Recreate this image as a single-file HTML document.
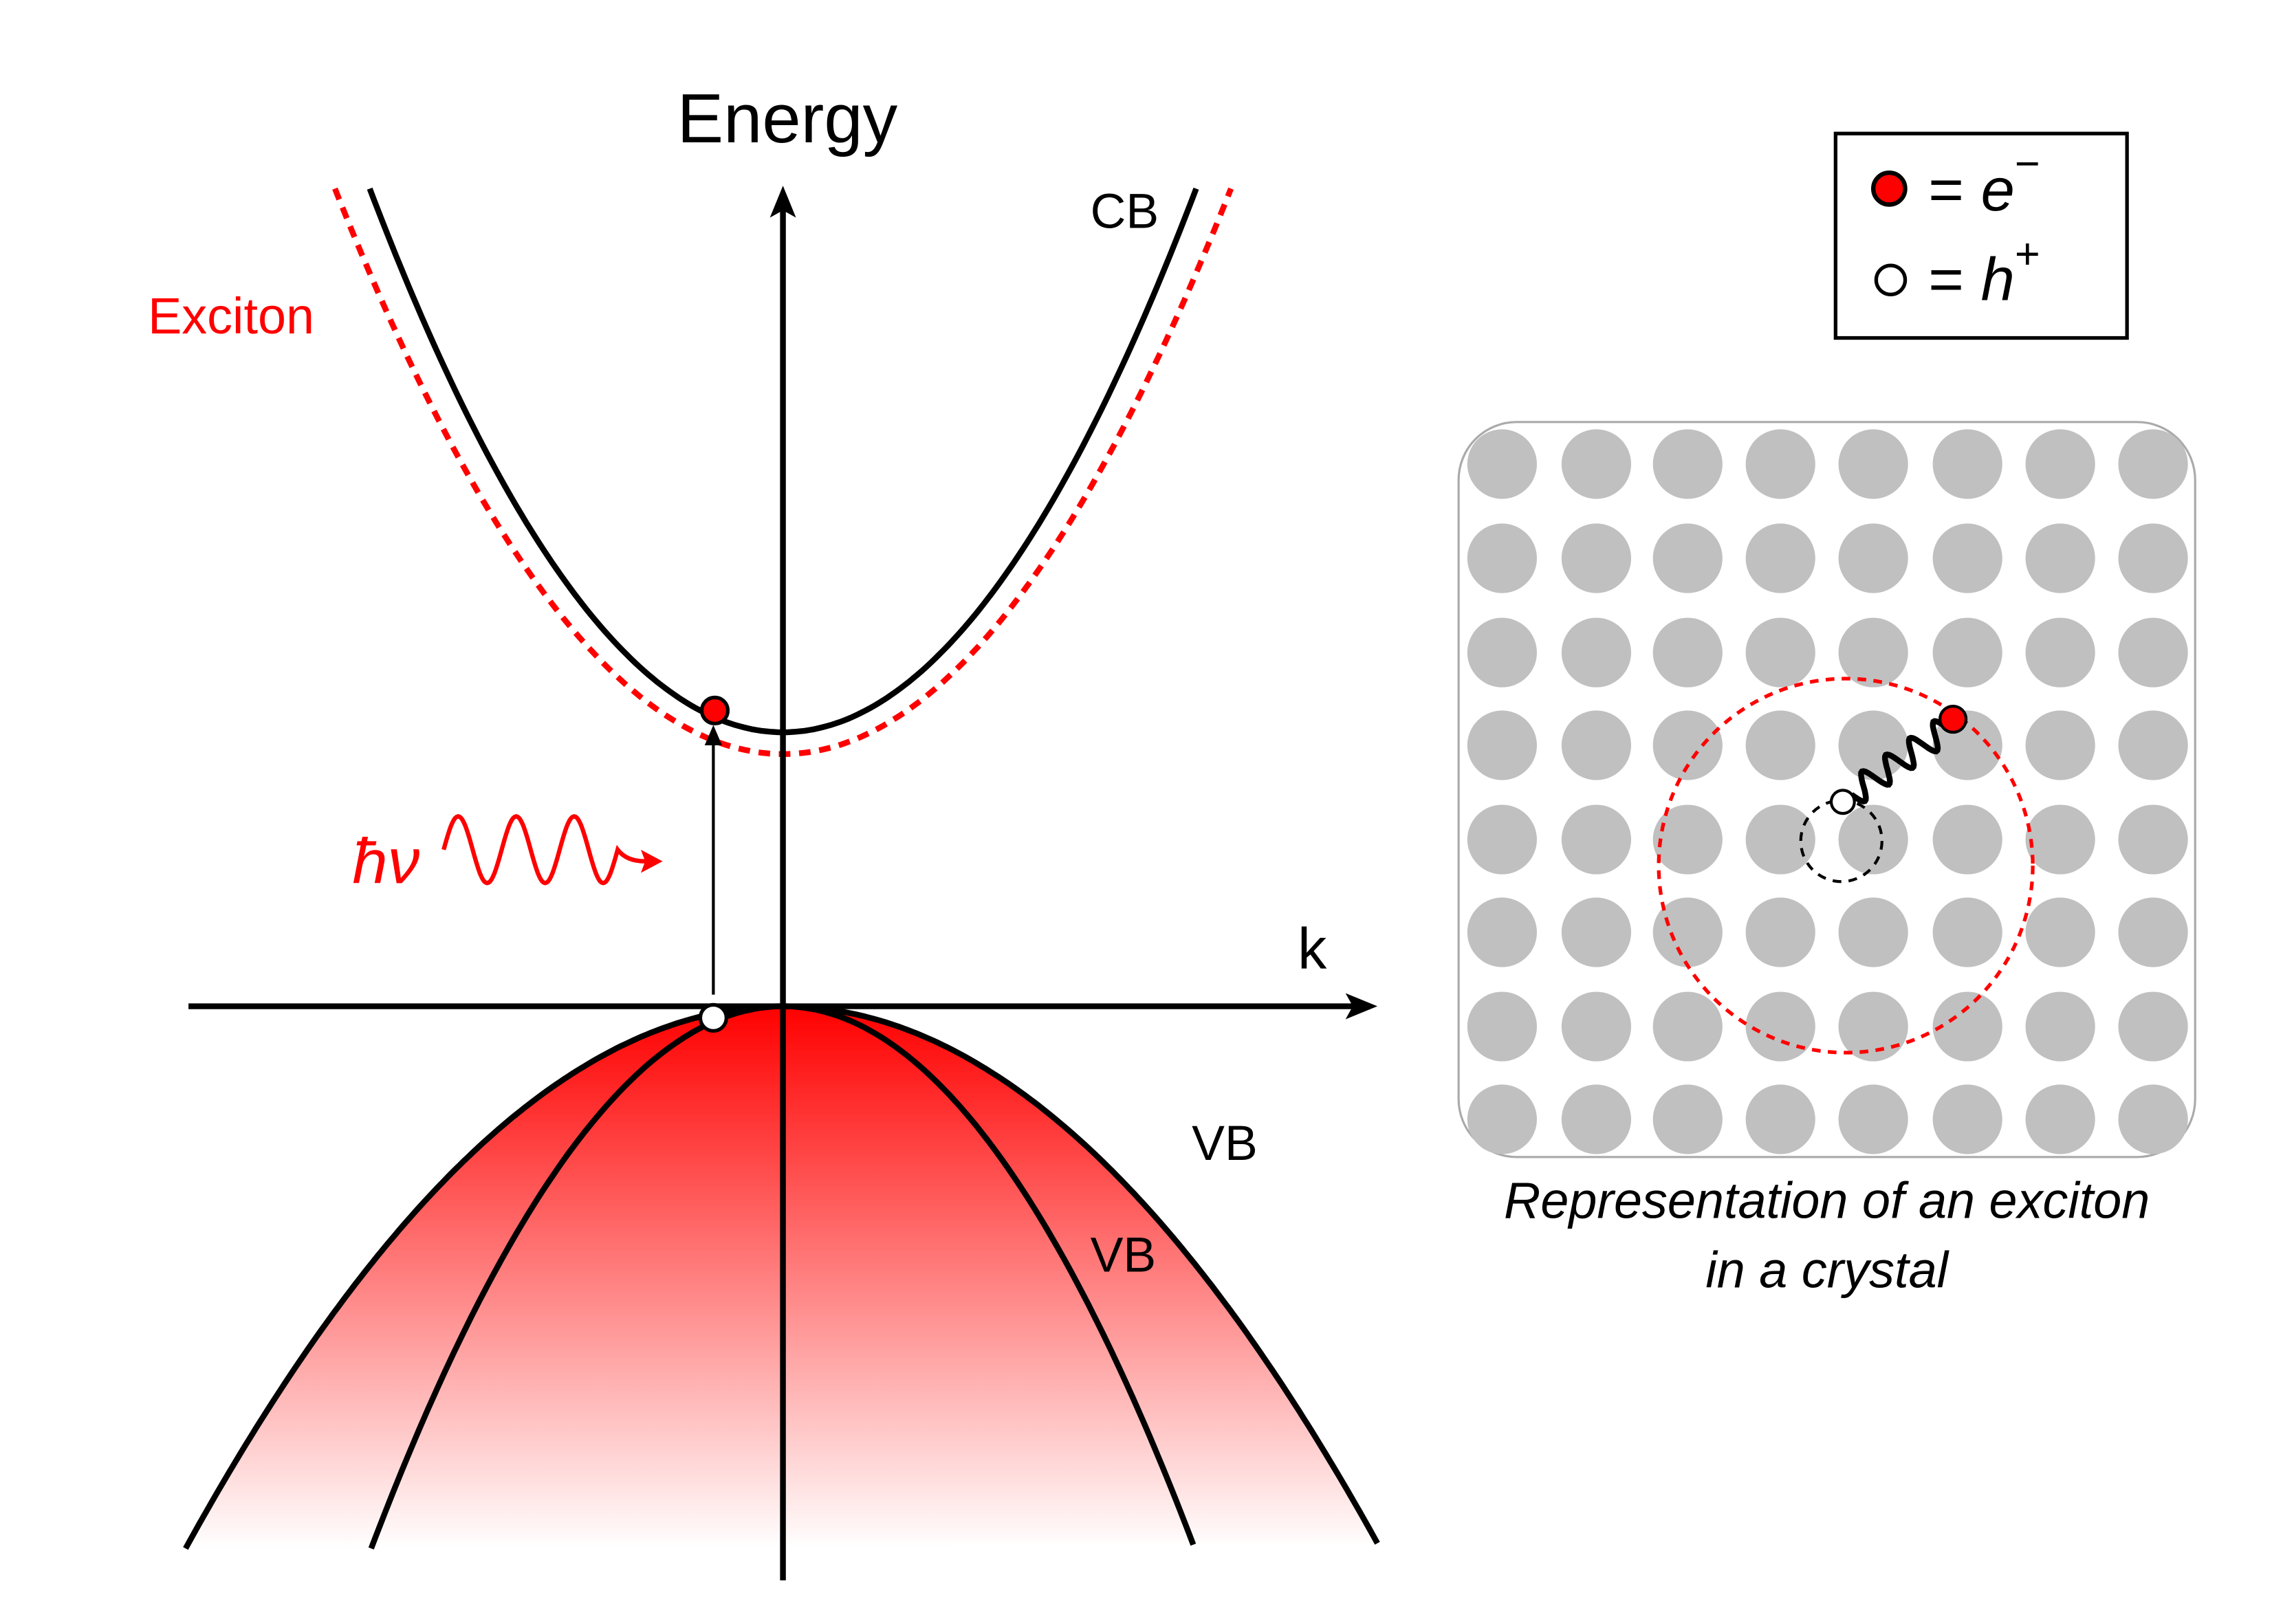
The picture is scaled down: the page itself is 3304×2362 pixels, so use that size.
<!DOCTYPE html>
<html><head><meta charset="utf-8"><style>
html,body{margin:0;padding:0;background:#fff;}
svg{display:block;}
text{font-family:"Liberation Sans",sans-serif;}
</style></head><body>
<svg id="fig" width="3304" height="2362" viewBox="0 0 1567 1120" xmlns="http://www.w3.org/2000/svg">
<defs>
<linearGradient id="vbgrad" x1="0" y1="0" x2="0" y2="1">
<stop offset="0" stop-color="#ff0000"/>
<stop offset="1" stop-color="#ffffff"/>
</linearGradient>
</defs>
<g id="bands"></g>
<g>
<line x1="540" y1="1090" x2="540" y2="140" stroke="#000" stroke-width="4"/>
<polygon points="540,128 531,150 540,145 549,150" fill="#000"/>
<line x1="130" y1="694" x2="935" y2="694" stroke="#000" stroke-width="4"/>
<polygon points="950,694 928,685 933,694 928,703" fill="#000"/>
<text x="543" y="98" font-size="48" text-anchor="middle">Energy</text>
<text x="905" y="668" font-size="40" text-anchor="middle">k</text>
</g>
<text x="752" y="157" font-size="34">CB</text>
<text x="102" y="230" font-size="35" fill="#f00">Exciton</text>
<text x="822" y="800" font-size="34">VB</text>
<text x="752" y="877" font-size="34">VB</text>
<line x1="492" y1="686" x2="492" y2="510" stroke="#000" stroke-width="2"/>
<polygon points="492,500 486,514 498,514" fill="#000"/>
<circle cx="493" cy="490" r="9" fill="#f00" stroke="#000" stroke-width="2.5"/>
<circle cx="492" cy="702" r="9" fill="#fff" stroke="#000" stroke-width="2.5"/>
<text x="243" y="609" font-size="44" font-style="italic" fill="#f00" font-family="Liberation Serif,serif">ħν</text>
<path id="wave" fill="none" stroke="#f00" stroke-width="3"/>
<polygon points="457,594 442,586 445,594 442,602" fill="#f00"/>
<g>
<rect x="1266" y="92" width="201" height="141" fill="#fff" stroke="#000" stroke-width="2.5"/>
<circle cx="1303" cy="130" r="11" fill="#f00" stroke="#000" stroke-width="3"/>
<text x="1330" y="145" font-size="42" font-family="Liberation Serif,serif">= <tspan font-style="italic">e</tspan><tspan font-size="30" dy="-22">−</tspan></text>
<circle cx="1304" cy="193" r="10" fill="#fff" stroke="#000" stroke-width="2.5"/>
<text x="1330" y="207" font-size="42" font-family="Liberation Serif,serif">= <tspan font-style="italic">h</tspan><tspan font-size="30" dy="-22">+</tspan></text>
</g>
<g>
<rect x="1006" y="291" width="508" height="507" rx="40" fill="#fff" stroke="#aaa" stroke-width="1.5"/>
<g id="lattice"></g>
<circle cx="1273" cy="597" r="129" fill="none" stroke="#f00" stroke-width="2.5" stroke-dasharray="6,5"/>
<circle cx="1270" cy="580" r="28" fill="none" stroke="#000" stroke-width="2" stroke-dasharray="6,5"/>
<path id="spring" fill="none" stroke="#000" stroke-width="4"/>
<circle cx="1271" cy="553" r="8" fill="#fff" stroke="#000" stroke-width="2"/>
<circle cx="1347" cy="496" r="9" fill="#f00" stroke="#000" stroke-width="2"/>
<text x="1260" y="840" font-size="35" font-style="italic" text-anchor="middle">Representation of an exciton</text>
<text x="1260" y="888" font-size="35" font-style="italic" text-anchor="middle">in a crystal</text>
</g>
</svg>
<script>
// band parameters
const bandNames = ["cb", "exciton", "vb-outer", "vb-inner"];
const vertexY = [505, 520, 694, 694];
const halfWidth = [285, 309, 412, 284];
const heightDelta = [-375, -390, 374, 374];
const latticeCols = [1036, 1101, 1164, 1228, 1292, 1357, 1421, 1485];
const latticeRows = [320, 385, 450, 514, 579, 643, 708, 772];
const NS = "http://www.w3.org/2000/svg";
const cx0 = 540;
function bandY(i, x) { const u = (x - cx0) / halfWidth[i]; return vertexY[i] + heightDelta[i] * u * u; }
function bandPath(i) {
  let d = "";
  for (let x = cx0 - halfWidth[i]; x <= cx0 + halfWidth[i] + 0.01; x += 3) {
    d += (d ? "L" : "M") + x.toFixed(1) + "," + bandY(i, x).toFixed(1);
  }
  return d;
}
const g = document.getElementById("bands");
const fill = document.createElementNS(NS, "path");
fill.setAttribute("d", bandPath(2) + "Z");
fill.setAttribute("fill", "url(#vbgrad)");


g.appendChild(fill);
for (let i = 0; i < bandNames.length; i++) {
  const p = document.createElementNS(NS, "path");
  p.setAttribute("d", bandPath(i));
  p.setAttribute("fill", "none");
  p.setAttribute("stroke", i === 1 ? "#f00" : "#000");
  p.setAttribute("stroke-width", "4");
  if (i === 1) p.setAttribute("stroke-dasharray", "8,6");
  
  
  g.appendChild(p);
}
let wd = "";
for (let x = 306; x <= 426; x += 1) {
  const y = 586 - 23 * Math.sin((x - 306) / 40 * 2 * Math.PI);
  wd += (wd ? "L" : "M") + x + "," + y.toFixed(1);
}
wd += "Q432,594 445,594";
document.getElementById("wave").setAttribute("d", wd);
const lat = document.getElementById("lattice");
for (const y of latticeRows) for (const x of latticeCols) {
  const c = document.createElementNS(NS, "circle");
  c.setAttribute("cx", x); c.setAttribute("cy", y); c.setAttribute("r", 24);
  c.setAttribute("fill", "#c0c0c0");
  
  
  lat.appendChild(c);
}
const x1 = 1277, y1 = 548, x2 = 1343, y2 = 502;
const L = Math.hypot(x2 - x1, y2 - y1), ux = (x2 - x1) / L, uy = (y2 - y1) / L;
let sd = "";
for (let t = 0; t <= L; t += 1) {
  const a = 9 * Math.sin(t / L * 4 * 2 * Math.PI);
  const px = x1 + ux * t - uy * a, py = y1 + uy * t + ux * a;
  sd += (sd ? "L" : "M") + px.toFixed(1) + "," + py.toFixed(1);
}
document.getElementById("spring").setAttribute("d", sd);
</script>
</body></html>
